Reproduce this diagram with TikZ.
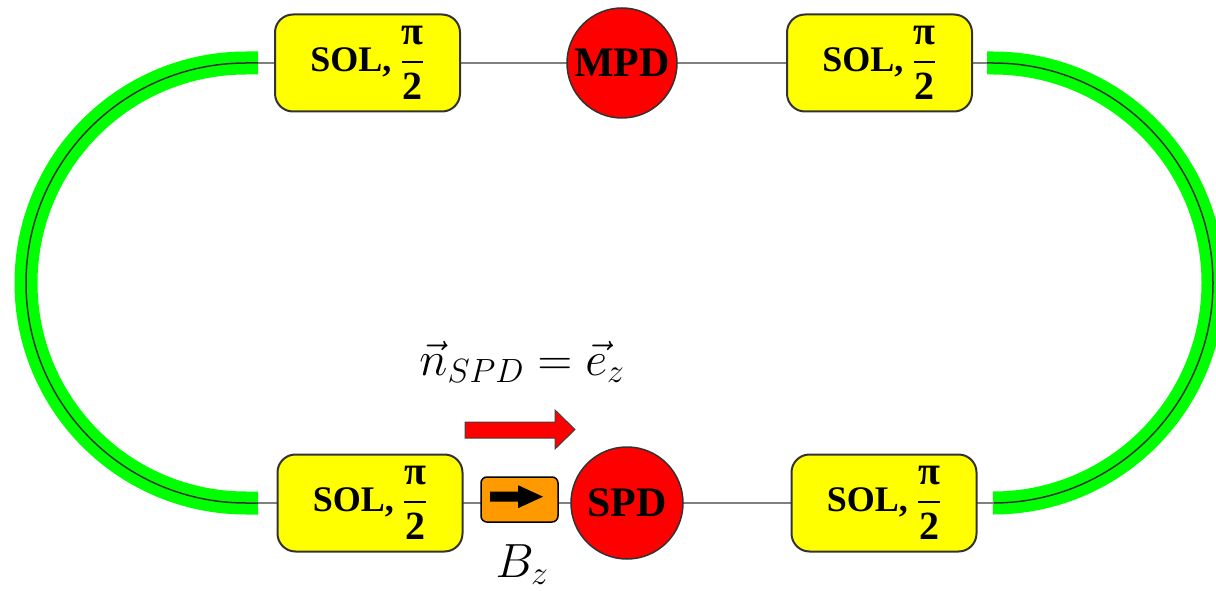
\RequirePackage{fix-cm}
\documentclass[tikz,border=0pt]{standalone}
\usepackage{amsmath}
\usepackage{fontspec}
\setmainfont{Liberation Serif}
\definecolor{ringgreen}{RGB}{0,255,0}
\definecolor{solyellow}{RGB}{255,255,0}
\definecolor{detred}{RGB}{255,0,0}
\definecolor{bzorange}{RGB}{255,153,0}
\definecolor{edgegray}{RGB}{50,50,50}
\newcommand\solfrac{{\fontsize{36}{40}\selectfont\bfseries SOL, }{\fontsize{40}{44}\selectfont$\genfrac{}{}{2.5pt}{0}{\text{\bfseries π}}{\text{\bfseries 2}}$}}
\tikzset{
  beam/.style={draw=gray, line width=2pt},
  ringband/.style={draw=ringgreen, line width=23pt},
  ringcore/.style={draw=black!80, line width=1.5pt},
  solbox/.style={draw=edgegray, fill=solyellow, line width=2pt, rounded corners=18pt,
    minimum width=185pt, minimum height=97pt, inner sep=0pt},
  detector/.style={circle, draw=edgegray, fill=detred, line width=1.5pt, inner sep=0pt,
    font=\fontsize{42}{46}\selectfont\bfseries},
  bzbox/.style={draw=black, fill=bzorange, line width=1.5pt, rounded corners=6pt,
    minimum width=77pt, minimum height=45pt, inner sep=0pt},
  mathlabel/.style={anchor=base, inner sep=0pt, font=\fontsize{48}{52}\selectfont}
}
\begin{document}
\begin{tikzpicture}[x=1pt,y=1pt]
\useasboundingbox (0,0) rectangle (1216,590);
\clip (0,0) rectangle (1216,590);
% ring ends
\coordinate (ltop) at (258,527);
\coordinate (lbot) at (258,87);
\coordinate (rtop) at (987,527);
\coordinate (rbot) at (994,87);
% arcs
\draw[ringband] (ltop) -- (246,527) arc[start angle=90, end angle=270, radius=220] -- (lbot);
\draw[ringcore] (ltop) -- (246,527) arc[start angle=90, end angle=270, radius=220] -- (lbot);
\draw[ringband] (rtop) -- (993,527) arc[start angle=90, end angle=-90, radius=220] -- (rbot);
\draw[ringcore] (rtop) -- (993,527) arc[start angle=90, end angle=-90, radius=220] -- (rbot);
% straight beam lines
\draw[beam] (ltop) -- (rtop);
\draw[beam] (lbot) -- (rbot);
% top row
\node[solbox] (tl) at (367.5,527) {\solfrac};
\node[detector, minimum size=110pt] (mpd) at (622,527) {MPD};
\node[solbox] (tr) at (879.5,527) {\solfrac};
% bottom row
\node[solbox] (bl) at (370,87) {\solfrac};
\node[bzbox] (bz) at (519.5,90.5) {};
\node[detector, minimum size=112pt] (spd) at (627,87) {SPD};
\node[solbox] (br) at (884,87) {\solfrac};
% black arrow inside Bz box
\fill[black] (490,88.3) -- (518,88.3) -- (518,81.8) -- (543,93.3) -- (518,104.8) -- (518,98.3) -- (490,98.3) -- cycle;
% red polarisation arrow
\filldraw[fill=detred, draw=black!75, line width=1pt]
  (465,152) -- (555,152) -- (555,141) -- (575,160.5) -- (555,180) -- (555,168) -- (465,168) -- cycle;
% labels
\node[mathlabel] (nlab) at (522,215) {$\vec{n}_{SPD}=\vec{e}_z$};
\node[mathlabel] (bzlab) at (522,13) {$B_z$};
\end{tikzpicture}
\end{document}
